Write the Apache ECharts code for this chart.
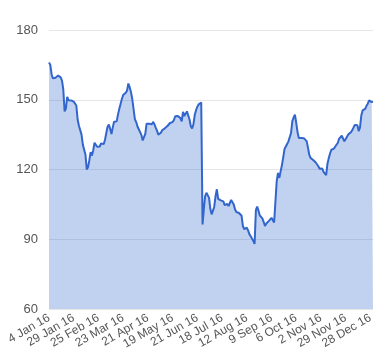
<!DOCTYPE html>
<html>
<head>
<meta charset="utf-8">
<script src="https://cdn.jsdelivr.net/npm/echarts@6/dist/echarts.min.js"></script>
<style>html,body{margin:0;padding:0;background:#fff}#c{width:380px;height:360px}</style>
</head>
<body>
<div id="c"></div>
<script>
const tickLabels = ['4 Jan 16','29 Jan 16','25 Feb 16','23 Mar 16','21 Apr 16','19 May 16','21 Jun 16','18 Jul 16','12 Aug 16','9 Sep 16','6 Oct 16','2 Nov 16','29 Nov 16','28 Dec 16'];
const labelStep = 19;
const yTicks = [60, 90, 120, 150, 180];
const values = [
166,165,161,159.2,158.9,159.5,160,160.4,160.1,159.6,
158.2,154.3,145,146.2,151.2,149.8,149.4,149.7,149,149.2,
149,147.5,141.5,138.8,139.2,135,130.7,131.3,126.5,120,
121,124,127.5,126,128.3,131.5,131.5,129.8,129.3,129.9,
131.2,131.8,130.9,132.7,135.6,138.4,139.3,137.5,135.3,138,
140.5,140.7,140.7,143.6,146,148.2,150.3,152,152.8,153,
154,157,155.4,153.3,150.3,146,141.7,140.4,138.5,137.3,
137.7,134.9,132.5,132.5,135.3,139.7,139.5,139.7,139.7,139.4,
140.5,139.5,138,136.7,135,134.5,135.8,136.9,136.6,137.7,
138.1,138.7,139.5,140,140.2,140.4,141.3,142.9,143.1,143,
142.8,142.1,140.7,144.8,143,142.7,145,145,141.5,138.6,
137.6,139.5,143.4,145.5,147,148,148.6,148.8,96.4,103,
108.6,110,110.7,107.8,103,100.7,100.7,104,108.5,111.5,
107.4,107.7,106.7,105.9,106.3,104.7,105.3,105.2,104.3,105.6,
106.9,106.5,104.9,102.8,101.7,101,101.3,101.8,100.1,95.7,
94.4,94.7,95,93.8,92.2,91.3,90.5,89.3,88,102.5,
104.1,102.3,100.2,100.6,99,97.4,95.7,96.8,97.4,97.9,
98.7,99.2,98.2,97.2,97,115,118.5,116.4,119.2,121.8,
125.2,128.8,129.9,131,132.1,131.5,135.7,140.7,142.4,143.6,
140.1,136.1,133.5,133.1,133.5,133.3,133.4,133.6,132.2,129.5,
126.4,125,125,124.1,123.6,123,122.4,121.4,120.3,120.6,
120.4,119,119.4,117.6,122.5,124.9,126.9,128.5,128,129,
129.9,130.6,131.5,133.3,134.1,134.5,134.2,132.1,132.9,134.1,
135.1,135.5,136,136.9,138,139.2,140,139,136.5,138,
143.2,145.4,145.2,146.1,147.4,148.3,149.7,149.4,149,149.1
];
const categories = values.map((_, i) => i);

const chart = echarts.init(document.getElementById('c'), null, {renderer: 'canvas'});
chart.setOption({
  animation: false,
  grid: {left: 49, right: 7, top: 30, bottom: 51},
  xAxis: {
    type: 'category',
    data: categories,
    boundaryGap: false,
    axisLine: {show: false},
    axisTick: {show: false},
    splitLine: {show: false},
    axisLabel: {
      interval: (i) => i % labelStep === 0,
      formatter: (v, i) => tickLabels[i / labelStep] || '',
      rotate: 30,
      margin: 8,
      color: '#555',
      fontSize: 12,
      fontFamily: 'Liberation Sans, Arial, sans-serif'
    }
  },
  yAxis: {
    type: 'value',
    min: yTicks[0],
    max: yTicks[yTicks.length - 1],
    interval: 30,
    axisLine: {show: false},
    axisTick: {show: false},
    splitLine: {lineStyle: {color: '#e6e6e6', width: 1}},
    axisLabel: {
      margin: 11,
      color: '#555',
      fontSize: 13,
      fontFamily: 'Liberation Sans, Arial, sans-serif'
    }
  },
  series: [{
    type: 'line',
    data: values,
    showSymbol: false,
    symbol: 'none',
    lineStyle: {color: '#3366CC', width: 2},
    areaStyle: {color: '#3366CC', opacity: 0.3}
  }]
});
</script>
</body>
</html>
